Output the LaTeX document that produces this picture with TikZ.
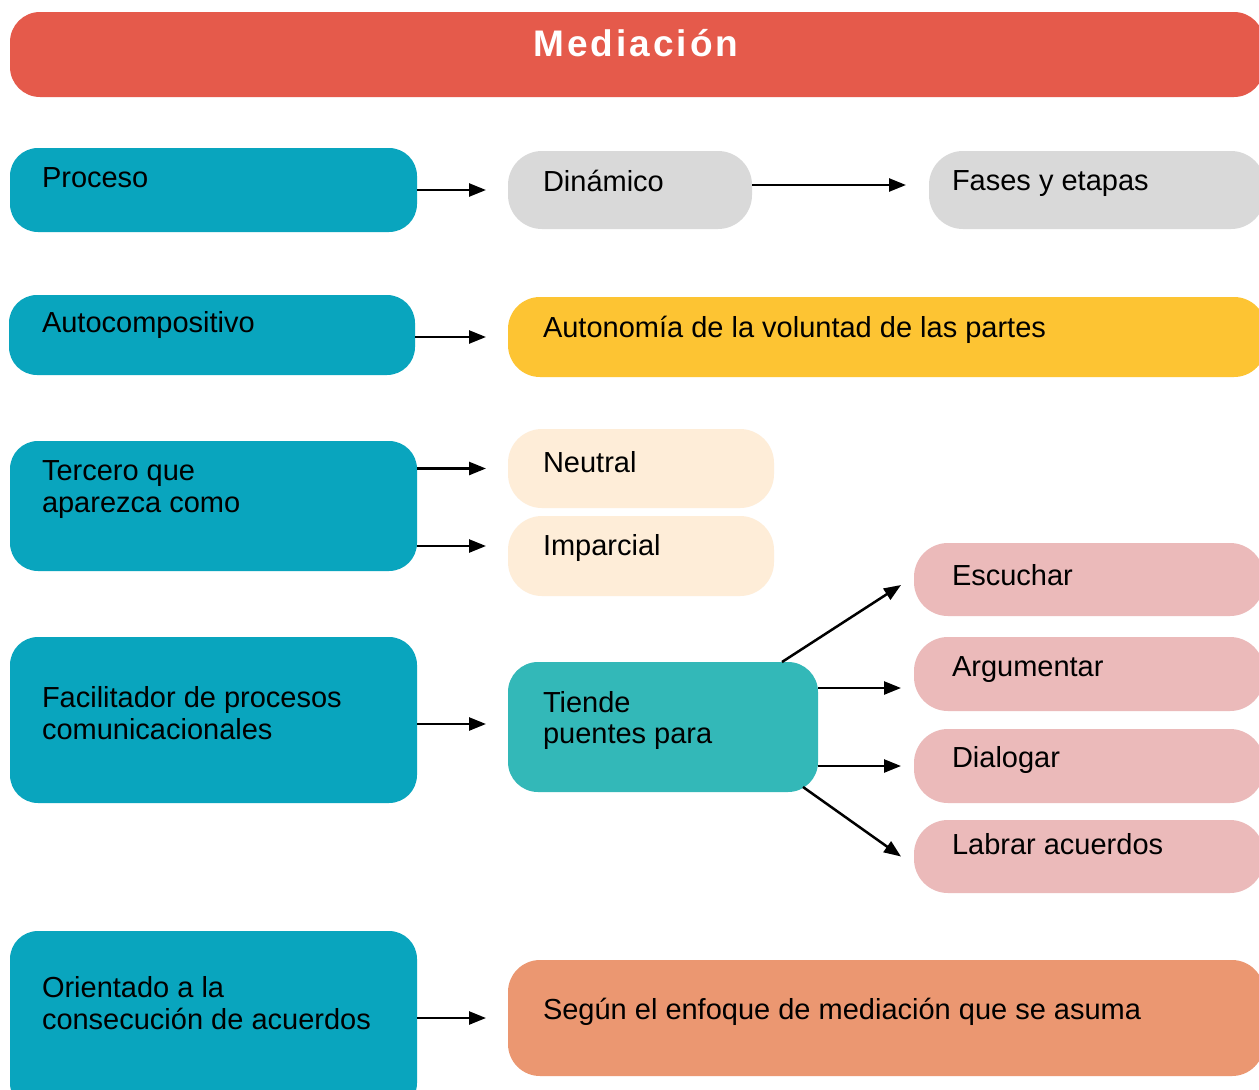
\documentclass[tikz,border=0pt]{standalone}
\usepackage{fontspec}
\setmainfont{Liberation Sans}
\newfontfamily\titlefont[LetterSpace=8]{Liberation Sans}
\usetikzlibrary{arrows.meta}
\definecolor{titlered}{HTML}{E55A4B}
\definecolor{tealblue}{HTML}{09A5BE}
\definecolor{lightgray}{HTML}{D9D9D9}
\definecolor{sunyellow}{HTML}{FDC433}
\definecolor{cream}{HTML}{FEEDD8}
\definecolor{tealgreen}{HTML}{33B8B8}
\definecolor{pinkbox}{HTML}{EBBABA}
\definecolor{orangebox}{HTML}{EB9771}
\begin{document}
\begin{tikzpicture}[x=1pt,y=-1pt,
  box/.style={rectangle, rounded corners=28pt, inner sep=0pt, outer sep=0pt, draw=none, anchor=north west},
  pill/.style={box, rounded corners=34pt},
  txt/.style={anchor=base west, inner sep=0pt, outer sep=0pt, text=black, font=\fontsize{29}{32}\selectfont},
  arr/.style={line width=2.5pt, -{Triangle[length=17pt,width=13pt]}, shorten >=22pt}
]
\useasboundingbox (0,0) rectangle (1259,1090);
\fill[white] (0,0) rectangle (1259,1090);

% title
\node[box, rounded corners=30pt, fill=titlered, minimum width=1254pt, minimum height=85pt] (title) at (10,12) {};
\node[anchor=base, inner sep=0pt, text=white, font=\titlefont\bfseries\fontsize{37}{42}\selectfont] (titletxt) at (636,56) {Mediación};

% left column
\node[box, fill=tealblue, minimum width=407pt, minimum height=84pt] (proceso) at (10,148) {};
\node[box, fill=tealblue, minimum width=406pt, minimum height=80pt] (auto) at (9,295) {};
\node[box, fill=tealblue, minimum width=407pt, minimum height=130pt] (tercero) at (10,441) {};
\node[box, fill=tealblue, minimum width=407pt, minimum height=166pt] (facil) at (10,637) {};
\node[box, fill=tealblue, minimum width=407pt, minimum height=180pt] (orientado) at (10,931) {};

% middle column
\node[pill, fill=lightgray, minimum width=244pt, minimum height=78pt] (dinamico) at (508,151) {};
\node[box, rounded corners=32pt, fill=sunyellow, minimum width=758pt, minimum height=80pt] (autonomia) at (508,297) {};
\node[pill, fill=cream, minimum width=266pt, minimum height=79pt] (neutral) at (508,429) {};
\node[pill, fill=cream, minimum width=266pt, minimum height=80pt] (imparcial) at (508,516) {};
\node[box, rounded corners=30pt, fill=tealgreen, minimum width=310pt, minimum height=130pt] (tiende) at (508,662) {};
\node[box, rounded corners=32pt, fill=orangebox, minimum width=756pt, minimum height=116pt] (segun) at (508,960) {};

% right column
\node[pill, fill=lightgray, minimum width=336pt, minimum height=78pt] (fases) at (929,151) {};
\node[pill, fill=pinkbox, minimum width=350pt, minimum height=73pt] (escuchar) at (914,543) {};
\node[pill, fill=pinkbox, minimum width=350pt, minimum height=74pt] (argumentar) at (914,637) {};
\node[pill, fill=pinkbox, minimum width=350pt, minimum height=74pt] (dialogar) at (914,729) {};
\node[pill, fill=pinkbox, minimum width=350pt, minimum height=73pt] (labrar) at (914,820) {};

% texts
\node[txt] (t1) at (42,187) {Proceso};
\node[txt] (t2) at (42,332) {Autocompositivo};
\node[txt] (t3a) at (42,480) {Tercero que};
\node[txt] (t3b) at (42,512) {aparezca como};
\node[txt] (t4a) at (42,707) {Facilitador de procesos};
\node[txt] (t4b) at (42,739) {comunicacionales};
\node[txt] (t5a) at (42,997) {Orientado a la};
\node[txt] (t5b) at (42,1029) {consecución de acuerdos};
\node[txt] (m1) at (543,191) {Dinámico};
\node[txt] (m2) at (543,337) {Autonomía de la voluntad de las partes};
\node[txt] (m3) at (543,472) {Neutral};
\node[txt] (m4) at (543,555) {Imparcial};
\node[txt] (m5a) at (543,712) {Tiende};
\node[txt] (m5b) at (543,743) {puentes para};
\node[txt] (m6) at (543,1019) {Según el enfoque de mediación que se asuma};
\node[txt] (r1) at (952,190) {Fases y etapas};
\node[txt] (r2) at (952,585) {Escuchar};
\node[txt] (r3) at (952,676) {Argumentar};
\node[txt] (r4) at (952,767) {Dialogar};
\node[txt] (r5) at (952,854) {Labrar acuerdos};

% connectors
\draw[arr] (proceso.east |- dinamico.west) -- (dinamico.west);
\coordinate (fasin) at ([yshift=5pt]fases.west);
\draw[arr, shorten >=23pt] (dinamico.east |- fasin) -- (fasin);
\draw[arr] (auto.east |- autonomia.west) -- (autonomia.west);
\draw[arr] (tercero.east |- neutral.west) -- (neutral.west);
\coordinate (impin) at ([yshift=10pt]imparcial.west);
\draw[arr] (tercero.east |- impin) -- (impin);
\coordinate (tiin) at ([yshift=3pt]tiende.west);
\draw[arr] (facil.east |- tiin) -- (tiin);
\draw[arr] (orientado.east |- segun.west) -- (segun.west);

\coordinate (escout) at ([xshift=119pt]tiende.north);
\coordinate (escin) at ([xshift=-13pt,yshift=-5.5pt]escuchar.west);
\draw[arr, shorten >=0pt] (escout) -- (escin);
\coordinate (argin) at ([xshift=-13pt,yshift=-14pt]argumentar.west);
\draw[arr, shorten >=0pt] (tiende.east |- argin) -- (argin);
\draw[arr, shorten >=13pt] (tiende.east |- dialogar.west) -- (dialogar.west);
\coordinate (labout) at ([xshift=-15pt,yshift=5pt]tiende.south east);
\coordinate (labin) at ([xshift=-13pt]labrar.west);
\draw[arr, shorten >=0pt] (labout) -- (labin);
\end{tikzpicture}
\end{document}
